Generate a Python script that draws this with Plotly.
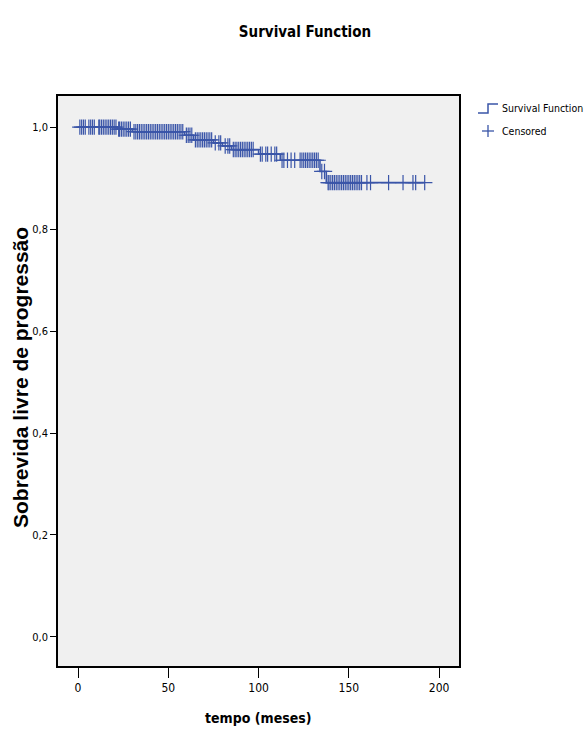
import numpy as np
import plotly.graph_objects as go

# Kaplan-Meier step function (event times and survival after each step)
step_times = [0, 22, 30, 59, 64, 75, 80, 85, 100, 112, 134, 137.5, 192]
step_surv = [1.000, 0.996, 0.991, 0.984, 0.975, 0.969, 0.963, 0.956, 0.947, 0.935, 0.913, 0.891, 0.891]

# Censored observation times
censored_times = [
    1, 2, 3, 4, 6, 7, 8, 9,
    11.5, 12, 13, 14, 15, 16, 17, 18, 19, 20, 21, 22.5, 23, 24, 25, 26, 27, 28, 29,
    31, 32, 33, 34, 35, 36, 37, 38, 39, 40, 41, 42, 43, 44, 45, 46, 47, 48, 49, 50,
    51, 52, 53, 54, 55, 56, 57, 58, 60, 61, 62, 63,
    65, 66, 67, 68, 69, 70, 71, 72, 73, 74, 76, 78, 79, 81.5, 83, 84,
    86, 87, 88, 89, 90, 91, 92, 93, 94, 95, 96, 97,
    101, 102, 104, 105, 107, 109, 110,
    113, 114, 116, 118, 120, 123, 124, 125, 126, 127, 128, 129, 130, 131, 132, 133,
    135, 136.5,
    138.5, 139, 140, 141, 142, 143, 144, 145, 146, 147, 148, 149, 150, 151, 152, 153,
    154, 155, 156, 157, 160, 162, 172, 180, 185.5, 187, 192,
]

tick_y_vals = [0.0, 0.2, 0.4, 0.6, 0.8, 1.0]
tick_y_text = ["0,0", "0,2", "0,4", "0,6", "0,8", "1,0"]
tick_x_vals = [0, 50, 100, 150, 200]

legend_labels = ["Survival Function", "Censored"]

# survival value at each censored time (lookup in the step function)
idx = np.searchsorted(np.array(step_times), np.array(censored_times), side="right") - 1
censored_surv = np.array(step_surv)[idx]

blue = "#3A55A8"
narrow = "DejaVu Sans Condensed, sans-serif"
wide = "Liberation Sans, Arial, sans-serif"

W, H = 584, 730
L, R, T, B = 58, 125, 96, 64
PW, PH = W - L - R, H - T - B


def px(x):
    return (x - L) / PW


def py(y):
    return (H - B - y) / PH


fig = go.Figure()
fig.add_trace(go.Scatter(
    x=step_times, y=step_surv, mode="lines", line=dict(shape="hv", color=blue, width=1.6),
    name=legend_labels[0], showlegend=False, hoverinfo="skip",
))
fig.add_trace(go.Scatter(
    x=censored_times, y=censored_surv, mode="markers",
    marker=dict(symbol="cross-thin", size=11, line=dict(color=blue, width=1.2), color=blue),
    name=legend_labels[1], showlegend=False, hoverinfo="skip",
))

# manual legend (step icon + cross icon)
shapes = [
    dict(type="path", xref="paper", yref="paper", line=dict(color=blue, width=1.5),
         path=f"M {px(478)} {py(113)} L {px(488)} {py(113)} L {px(488)} {py(104)} L {px(498)} {py(104)}"),
    dict(type="line", xref="paper", yref="paper", line=dict(color=blue, width=1.3),
         x0=px(482), x1=px(494), y0=py(131), y1=py(131)),
    dict(type="line", xref="paper", yref="paper", line=dict(color=blue, width=1.3),
         x0=px(488), x1=px(488), y0=py(125), y1=py(137)),
]
annotations = [
    dict(text=legend_labels[0], xref="paper", yref="paper", x=px(500), y=py(108), xanchor="left",
         yanchor="middle", showarrow=False, font=dict(family=narrow, size=10.5, color="black")),
    dict(text=legend_labels[1], xref="paper", yref="paper", x=px(500), y=py(131), xanchor="left",
         yanchor="middle", showarrow=False, font=dict(family=narrow, size=10.5, color="black")),
    dict(text="<b>tempo (meses)</b>", xref="paper", yref="paper", x=px(258), y=py(718),
         xanchor="center", yanchor="middle", showarrow=False,
         font=dict(family=narrow, size=14, color="black")),
    dict(text="<b>Sobrevida livre de progressão</b>", xref="paper", yref="paper", x=px(20),
         y=py(378), xanchor="center", yanchor="middle", textangle=-90, showarrow=False,
         font=dict(family=wide, size=21, color="black")),
]

fig.update_layout(
    width=W, height=H,
    margin=dict(l=L, r=R, t=T, b=B, autoexpand=False),
    paper_bgcolor="white", plot_bgcolor="#F0F0F0",
    title=dict(text="<b>Survival Function</b>", x=305 / W, xanchor="center", y=1 - 32 / H,
               yanchor="middle", font=dict(family=narrow, size=15, color="black")),
    showlegend=False, hovermode=False,
    shapes=shapes, annotations=annotations,
    font=dict(family=narrow, color="black"),
)
fig.update_xaxes(
    range=[-11.1, 211], tickvals=tick_x_vals, ticks="outside", ticklen=10, tickwidth=1.3,
    tickcolor="black", showgrid=False, zeroline=False, showline=True, linecolor="black",
    linewidth=1.5, mirror=True, tickfont=dict(family=narrow, size=12, color="black"),
    automargin=False,
)
fig.update_yaxes(
    range=[-0.057, 1.061], tickvals=tick_y_vals, ticktext=tick_y_text, ticks="outside", ticklen=6,
    tickwidth=1.3, tickcolor="black", showgrid=False, zeroline=False, showline=True,
    linecolor="black", linewidth=1.5, mirror=True,
    tickfont=dict(family=narrow, size=11, color="black"),
    automargin=False,
)

fig.write_html("out.html", config={"displayModeBar": False},
               post_script="document.body.style.margin='0px';")
